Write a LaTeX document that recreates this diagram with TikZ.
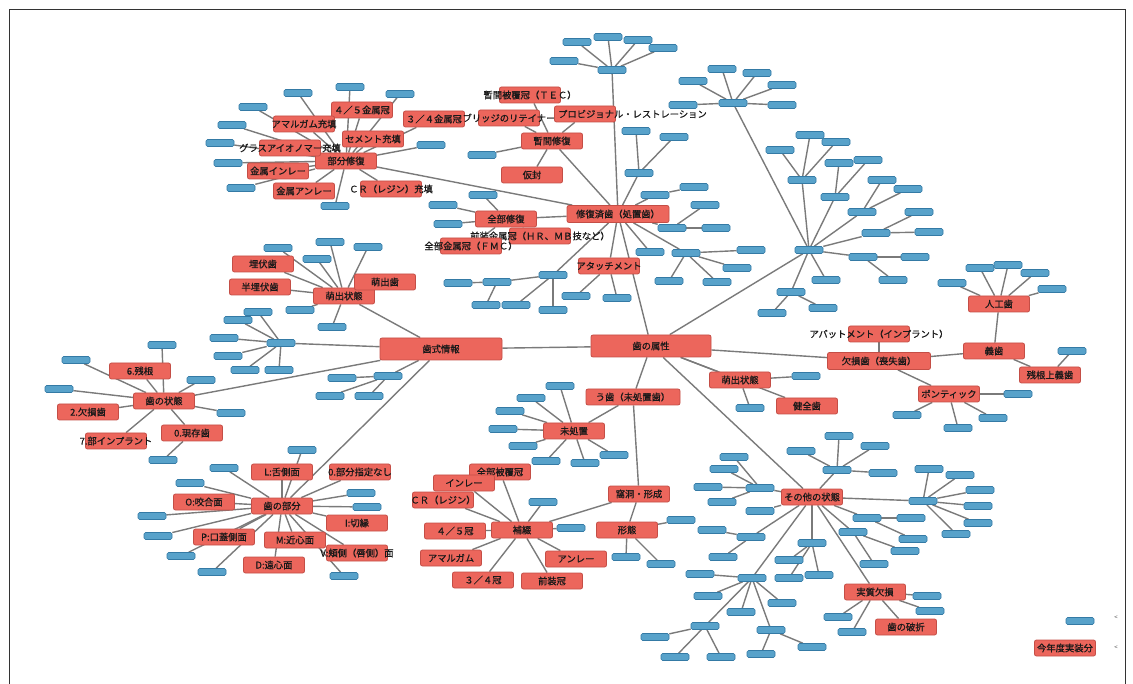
\documentclass[tikz,border=0pt]{standalone}
\usepackage{fontspec}
\setmainfont{Noto Sans CJK JP}
\newfontfamily\jpb[FakeBold=0.8]{Noto Sans CJK JP}
\usetikzlibrary{backgrounds}
\definecolor{rf}{RGB}{236,102,92}
\definecolor{rd}{RGB}{196,78,70}
\definecolor{bf}{RGB}{88,162,202}
\definecolor{bd}{RGB}{52,122,165}
\definecolor{eg}{RGB}{122,122,122}
\tikzset{
 rnode/.style={draw=rd,fill=rf,rounded corners=2pt,line width=0.8pt,minimum width=61pt,minimum height=16pt,inner sep=0pt},
 bnode/.style={draw=bd,fill=bf,rounded corners=1.5pt,line width=0.6pt,minimum width=28pt,minimum height=7pt,inner sep=0pt},
 lbl/.style={font=\jpb\fontsize{9.3}{10}\selectfont,text=black!90,inner sep=0pt},
 edge/.style={draw=eg,line width=1.4pt},
}
\newcommand{\RN}[5][]{\node[rnode,#1,label={[lbl]center:{#5}}] (#2) at (#3,#4) {};}
\newcommand{\BN}[3]{\node[bnode] (#1) at (#2,#3) {};}
\newcommand{\EDG}[2]{\foreach \cc in {#2} {\draw[edge] (#1) -- (\cc);}}
\begin{document}
\begin{tikzpicture}[x=1pt,y=-1pt]
\useasboundingbox (0,0) rectangle (1133,684);
\draw[line width=1pt,black!80] (9,684) -- (9,10) -- (1125,10) -- (1125,684);
% hubs
\RN[minimum width=120pt,minimum height=22pt]{zoku}{651}{346}{歯の属性}
\RN[minimum width=122pt,minimum height=22pt]{shiki}{441}{349}{歯式情報}
% top-left
\RN{bubun}{346}{161}{部分修復}
\RN{k45}{362}{110}{４／５金属冠}
\RN{k34}{434}{119}{３／４金属冠}
\RN{amaj}{304}{124}{アマルガム充填}
\RN{cem}{373}{139}{セメント充填}
\RN{glass}{290}{148}{グラスアイオノマー充填}
\RN{minl}{278}{171}{金属インレー}
\RN{monl}{304}{191}{金属アンレー}
\RN{crj}{391}{189}{ＣＲ（レジン）充填}
% top center
\RN{zanh}{552}{141}{暫間修復}
\RN{tec}{530}{95}{暫間被覆冠（ＴＥＣ）}
\RN{brr}{509}{118}{ブリッジのリテイナー}
\node[rnode] (prov) at (585,114) {};
\node[lbl,anchor=west] (provt) at (558,114) {プロビジョナル・レストレーション};
\RN{kari}{532}{175}{仮封}
\RN[minimum width=102pt,minimum height=17pt]{shufuku}{618}{214}{修復済歯（処置歯）}
\RN{zenbu}{506}{219}{全部修復}
\RN{zenso}{540}{236}{前装金属冠（ＨＲ、ＭＢ技など）}
\RN{fmc}{471}{246}{全部金属冠（ＦＭＣ）}
\RN{attach}{609}{266}{アタッチメント}
% right
\RN{jinko}{999}{304}{人工歯}
\RN{gishi}{994}{351}{義歯}
\RN{zankon}{1050}{375}{残根上義歯}
\RN[minimum width=103pt,minimum height=17pt]{kesson}{879}{361}{欠損歯（喪失歯）}
\RN{abut}{879}{334}{アバットメント（インプラント）}
\RN{pontic}{949}{394}{ポンティック}
\RN{hosh2}{740}{380}{萌出状態}
\RN{kenzen}{807}{406}{健全歯}
% left
\RN{moe}{344}{296}{萌出状態}
\RN{maifuku}{263}{264}{埋伏歯}
\RN{hanmai}{260}{287}{半埋伏歯}
\RN{moeshi}{385}{282}{萌出歯}
\RN{jotai}{164}{401}{歯の状態}
\RN{zk6}{140}{371}{6.残根}
\RN{ks2}{88}{412}{2.欠損歯}
\RN{gs0}{192}{433}{0.現存歯}
\RN{imp7}{116}{441}{7.部インプラント}
% bottom-left
\RN{bubunp}{282}{506}{歯の部分}
\RN{Lz}{282}{472}{L:舌側面}
\RN{Onone}{360}{472}{0.部分指定なし}
\RN{Okou}{204}{502}{O:咬合面}
\RN{Ikirie}{357}{523}{I:切縁}
\RN{Mkin}{295}{540}{M:近心面}
\RN{Pko}{224}{537}{P:口蓋側面}
\RN{Den}{274}{565}{D:遠心面}
\RN{Vkyo}{357}{553}{V:頬側（唇側）面}
% bottom center
\RN[minimum width=94pt]{ushi}{633}{397}{う歯（未処置歯）}
\RN{misho}{574}{431}{未処置}
\RN{kado}{639}{494}{窩洞・形成}
\RN{keitai}{627}{530}{形態}
\RN{hotetsu}{522}{530}{補綴}
\RN{zhifuku}{500}{472}{全部被覆冠}
\RN{inl}{464}{483}{インレー}
\RN{cr}{443}{500}{ＣＲ（レジン）}
\RN{c45}{455}{531}{４／５冠}
\RN{amal}{451}{558}{アマルガム}
\RN{c34}{483}{580}{３／４冠}
\RN{zensokan}{552}{581}{前装冠}
\RN{onl}{576}{559}{アンレー}
% bottom right
\RN{sonota}{812}{497}{その他の状態}
\RN{jisshitsu}{875}{592}{実質欠損}
\RN{hasetsu}{906}{627}{歯の破折}
\RN{leg}{1065}{648}{今年度実装分}
% blue nodes
\BN{bu1}{350}{87}\BN{bu2}{400}{94}\BN{bu3}{298}{93}\BN{bu4}{253}{107}\BN{bu5}{232}{125}
\BN{bu6}{220}{143}\BN{bu7}{228}{163}\BN{bu8}{241}{188}\BN{bu9}{335}{206}\BN{bu10}{431}{145}
\BN{za1}{482}{155}
\BN{tb}{612}{70}\BN{tb1}{577}{42}\BN{tb2}{608}{37}\BN{tb3}{638}{40}\BN{tb4}{663}{48}\BN{tb5}{564}{61}
\BN{zb1}{483}{195}\BN{zb2}{443}{205}\BN{zb3}{448}{224}
\BN{ah}{553}{275}\BN{ah1}{497}{282}\BN{ah2}{516}{305}\BN{ah3}{553}{310}\BN{ah11}{458}{283}\BN{ah12}{486}{305}
\BN{at1}{576}{296}\BN{at2}{617}{298}
\BN{r1}{639}{173}\BN{r11}{636}{131}\BN{r12}{674}{137}
\BN{r2}{655}{195}\BN{r21}{694}{187}
\BN{r3}{672}{228}\BN{r31}{705}{205}\BN{r32}{716}{228}
\BN{r4}{650}{252}
\BN{r5}{686}{253}\BN{r51}{751}{250}\BN{r52}{737}{268}\BN{r53}{717}{282}\BN{r54}{669}{281}
\BN{ih}{809}{250}
\BN{tl}{733}{103}\BN{tl1}{693}{81}\BN{tl2}{722}{69}\BN{tl3}{757}{73}\BN{tl4}{782}{85}\BN{tl5}{782}{105}\BN{tl6}{683}{105}
\BN{i1}{802}{180}\BN{i11}{780}{150}\BN{i12}{810}{135}\BN{i13}{836}{142}
\BN{i2}{835}{197}\BN{i21}{839}{163}\BN{i22}{868}{160}
\BN{i3}{862}{212}\BN{i31}{882}{180}\BN{i32}{908}{189}
\BN{i4}{876}{233}\BN{i41}{929}{232}\BN{i42}{919}{212}
\BN{i5}{863}{257}\BN{i51}{915}{257}\BN{i52}{893}{280}
\BN{i6}{826}{280}
\BN{i7}{791}{292}\BN{i71}{772}{313}\BN{i72}{823}{308}
\BN{j1}{952}{283}\BN{j2}{980}{268}\BN{j3}{1008}{265}\BN{j4}{1035}{273}\BN{j5}{1052}{289}
\BN{zk1}{1072}{351}
\BN{p1}{1018}{394}\BN{p2}{907}{415}\BN{p3}{993}{418}\BN{p4}{958}{428}
\BN{h1}{806}{376}\BN{h2}{750}{408}
\BN{m1}{278}{248}\BN{m2}{330}{242}\BN{m3}{368}{247}\BN{m4}{317}{259}\BN{m5}{300}{310}\BN{m6}{332}{327}
\BN{lh}{281}{343}\BN{lh1}{258}{312}\BN{lh2}{238}{320}\BN{lh3}{224}{338}\BN{lh4}{228}{356}\BN{lh5}{245}{370}\BN{lh6}{279}{370}
\BN{jo1}{162}{345}\BN{jo2}{76}{360}\BN{jo3}{59}{389}\BN{jo4}{201}{380}\BN{jo5}{231}{413}
\BN{gs1}{163}{460}
\BN{rh}{388}{376}\BN{rh1}{342}{378}\BN{rh2}{330}{396}\BN{rh3}{369}{396}
\BN{bp1}{302}{450}\BN{bp2}{224}{468}\BN{bp3}{190}{483}\BN{bp4}{152}{516}\BN{bp5}{158}{536}
\BN{bp6}{181}{556}\BN{bp7}{212}{572}\BN{bp8}{361}{493}\BN{bp9}{367}{507}\BN{bp10}{344}{576}
\BN{mi1}{560}{386}\BN{mi2}{531}{398}\BN{mi3}{510}{411}\BN{mi4}{503}{429}\BN{mi5}{523}{446}\BN{mi6}{546}{461}\BN{mi7}{585}{463}\BN{mi8}{614}{455}
\BN{ke1}{626}{557}\BN{ke2}{661}{564}\BN{ke3}{681}{520}
\BN{ho1}{543}{502}\BN{ho2}{571}{528}
\BN{sa}{837}{470}\BN{sa1}{801}{451}\BN{sa2}{839}{436}\BN{sa3}{875}{446}\BN{sa4}{883}{473}
\BN{sb}{760}{488}\BN{sb1}{734}{457}\BN{sb2}{724}{469}\BN{sb3}{708}{487}\BN{sb4}{722}{502}
\BN{sc}{760}{511}
\BN{sd}{751}{537}\BN{sd1}{712}{530}\BN{sd2}{723}{557}
\BN{se}{812}{543}\BN{se1}{789}{560}\BN{se2}{789}{578}\BN{se3}{819}{575}
\BN{sf}{752}{578}\BN{sf1}{700}{574}\BN{sf2}{708}{596}\BN{sf3}{741}{612}\BN{sf4}{782}{603}\BN{sf5}{705}{626}\BN{sf6}{771}{630}
\BN{sf51}{655}{637}\BN{sf52}{675}{657}\BN{sf53}{721}{657}\BN{sf61}{761}{654}\BN{sf62}{812}{647}
\BN{sg}{867}{518}\BN{sg1}{911}{518}\BN{sg2}{913}{539}
\BN{sh}{853}{532}\BN{sh1}{905}{551}\BN{sh2}{874}{564}
\BN{si}{923}{501}\BN{si1}{929}{469}\BN{si2}{960}{475}\BN{si3}{980}{490}\BN{si4}{978}{506}\BN{si5}{978}{523}\BN{si6}{956}{534}
\BN{js1}{838}{617}\BN{js2}{852}{632}\BN{js3}{927}{596}\BN{js4}{930}{611}
\BN{legb}{1080}{621}
\node[font=\fontsize{6}{6}\selectfont,text=black!70] (lm1) at (1116,618) {<};
\node[font=\fontsize{6}{6}\selectfont,text=black!70] (lm2) at (1116,648) {<};
% edges
\begin{scope}[on background layer]
\EDG{zoku}{shiki,shufuku,ih,kesson,ushi,sonota,hosh2,kenzen}
\EDG{shufuku}{bubun,zanh,zenbu,attach,tb,ah,r1,r2,r3,r4,r5}
\EDG{bubun}{k45,k34,amaj,cem,glass,minl,monl,crj,bu1,bu2,bu3,bu4,bu5,bu6,bu7,bu8,bu9,bu10}
\EDG{zanh}{tec,brr,prov,kari,za1}
\EDG{tb}{tb1,tb2,tb3,tb4,tb5}
\EDG{zenbu}{zenso,fmc,zb1,zb2,zb3}
\EDG{ah}{ah1,ah2,ah3}
\EDG{ah1}{ah11,ah12}
\EDG{attach}{at1,at2}
\EDG{r1}{r11,r12}
\EDG{r2}{r21}
\EDG{r3}{r31,r32}
\EDG{r5}{r51,r52,r53,r54}
\EDG{ih}{tl,i1,i2,i3,i4,i5,i6,i7}
\EDG{tl}{tl1,tl2,tl3,tl4,tl5,tl6}
\EDG{i1}{i11,i12,i13}
\EDG{i2}{i21,i22}
\EDG{i3}{i31,i32}
\EDG{i4}{i41,i42}
\EDG{i5}{i51,i52}
\EDG{i7}{i71,i72}
\EDG{kesson}{abut,gishi,pontic}
\EDG{gishi}{jinko,zankon}
\EDG{jinko}{j1,j2,j3,j4,j5}
\EDG{zankon}{zk1}
\EDG{pontic}{p1,p2,p3,p4}
\EDG{hosh2}{h1,h2}
\EDG{shiki}{moe,lh,jotai,rh,bubunp}
\EDG{moe}{maifuku,hanmai,moeshi,m1,m2,m3,m4,m5,m6}
\EDG{lh}{lh1,lh2,lh3,lh4,lh5,lh6}
\EDG{jotai}{zk6,ks2,gs0,imp7,jo1,jo2,jo3,jo4,jo5}
\EDG{gs0}{gs1}
\EDG{rh}{rh1,rh2,rh3}
\EDG{bubunp}{Lz,Onone,Okou,Ikirie,Mkin,Pko,Den,Vkyo,bp1,bp2,bp3,bp4,bp5,bp6,bp7,bp8,bp9,bp10}
\EDG{ushi}{misho,kado}
\EDG{misho}{mi1,mi2,mi3,mi4,mi5,mi6,mi7,mi8}
\EDG{kado}{keitai,hotetsu}
\EDG{keitai}{ke1,ke2,ke3}
\EDG{hotetsu}{zhifuku,inl,cr,c45,amal,c34,zensokan,onl,ho1,ho2}
\EDG{sonota}{jisshitsu,sa,sb,sc,sd,se,sf,sg,sh,si}
\EDG{sa}{sa1,sa2,sa3,sa4}
\EDG{sb}{sb1,sb2,sb3,sb4}
\EDG{sd}{sd1,sd2}
\EDG{se}{se1,se2,se3}
\EDG{sf}{sf1,sf2,sf3,sf4,sf5,sf6}
\EDG{sf5}{sf51,sf52,sf53}
\EDG{sf6}{sf61,sf62}
\EDG{sg}{sg1,sg2}
\EDG{sh}{sh1,sh2}
\EDG{si}{si1,si2,si3,si4,si5,si6}
\EDG{jisshitsu}{hasetsu,js1,js2,js3,js4}
\end{scope}
\end{tikzpicture}
\end{document}
